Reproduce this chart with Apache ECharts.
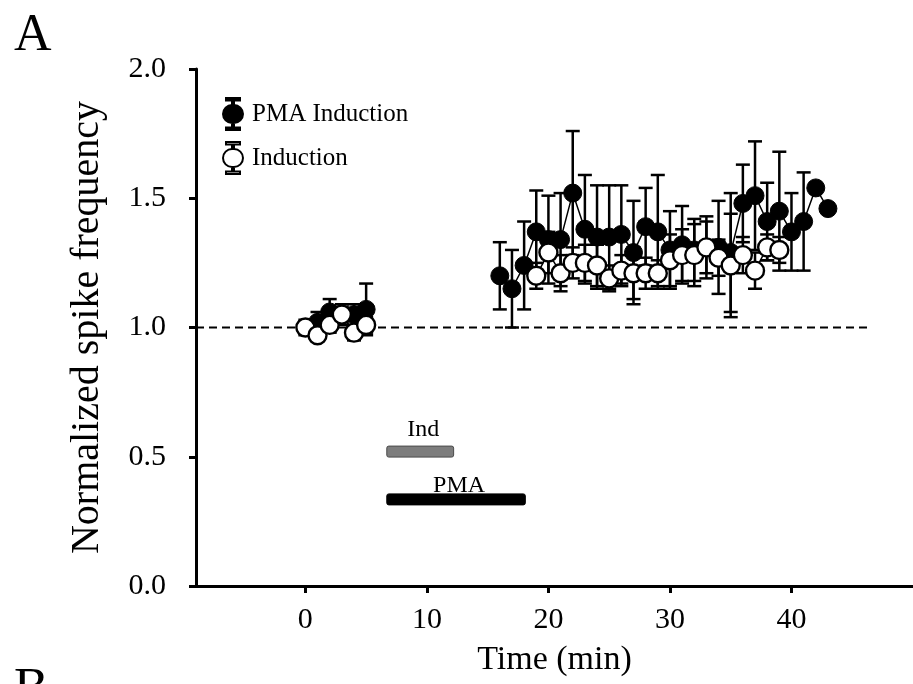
<!DOCTYPE html>
<html>
<head>
<meta charset="utf-8">
<script src="https://cdn.jsdelivr.net/npm/echarts@6/dist/echarts.min.js"></script>
<style>
html,body{margin:0;padding:0;background:#fff;}
#chart{width:913px;height:684px;}
</style>
</head>
<body>
<div id="chart"></div>
<script>
// ---- data ----
const pmaTime = [0,1,2,3,4,5, 16,17,18,19,20,21,22,23,24,25,26,27,28,29,30,31,32,33,34,35,36,37,38,39,40,41,42,43];
const pmaMean = [1.00,1.02,1.06,1.05,1.05,1.07, 1.20,1.15,1.24,1.37,1.34,1.34,1.52,1.38,1.35,1.35,1.36,1.29,1.39,1.37,1.30,1.32,1.30,1.31,1.31,1.29,1.48,1.51,1.41,1.45,1.37,1.41,1.54,1.46];
const pmaSem  = [0.03,0.04,0.05,0.04,0.04,0.10, 0.13,0.15,0.17,0.16,0.17,0.18,0.24,0.21,0.20,0.20,0.19,0.20,0.15,0.22,0.15,0.15,0.12,0.12,0.18,0.23,0.15,0.21,0.15,0.23,0.15,0.19,0,0];

const indTime = [0,1,2,3,4,5, 19,20,21,22,23,24,25,26,27,28,29,30,31,32,33,34,35,36,37,38,39];
const indMean = [1.00,0.97,1.01,1.05,0.98,1.01, 1.20,1.29,1.21,1.25,1.25,1.24,1.19,1.22,1.21,1.21,1.21,1.26,1.28,1.28,1.31,1.27,1.24,1.28,1.22,1.31,1.30];
const indSem  = [0.02,0.02,0.03,0.03,0.03,0.03, 0.05,0.08,0.07,0.06,0.07,0.08,0.05,0.06,0.10,0.06,0.05,0.10,0.10,0.12,0.10,0.07,0.20,0.07,0.07,0.05,0.05];

// treatment bars: [start, end, level]
const treatBars = [[6.7, 12.2, 0.52], [6.7, 18.1, 0.335]];
const treatLabels = ['Ind', 'PMA'];
const baselineLevel = 1.0;
const baselineRange = [-9, 46.6];

const xTicks = [0, 10, 20, 30, 40];
const seriesNames = ['PMA Induction', 'Induction'];

// ---- helpers ----
const FONT = '"Liberation Serif", "Times New Roman", serif';
function lineData(t, m) {
  const out = [];
  for (let i = 0; i < t.length; i++) {
    if (i > 0 && t[i] - t[i - 1] > 3) out.push(['-', '-']);
    out.push([t[i], m[i]]);
  }
  return out;
}
function errData(t, m, e) { return t.map((v, i) => [v, m[i], e[i]]); }
function errRender(params, api) {
  const x = api.value(0), y = api.value(1), e = api.value(2);
  if (!e) return null;
  const top = api.coord([x, y + e]), bot = api.coord([x, y - e]);
  const hw = 7, st = {stroke: '#000', lineWidth: 2.5};
  return {type: 'group', children: [
    {type: 'line', shape: {x1: top[0], y1: top[1], x2: bot[0], y2: bot[1]}, style: st},
    {type: 'line', shape: {x1: top[0] - hw, y1: top[1], x2: top[0] + hw, y2: top[1]}, style: st},
    {type: 'line', shape: {x1: bot[0] - hw, y1: bot[1], x2: bot[0] + hw, y2: bot[1]}, style: st}
  ]};
}
const legendIcon = 'path://M3,0H17V2.5H11V7A9,9 0 0 1 11,25V29.5H17V32H3V29.5H9V25A9,9 0 0 1 9,7V2.5H3Z';
const barStyles = [
  {fill: '#7d7d7d', stroke: '#4a4a4a', labelDy: -4},
  {fill: '#000', stroke: '#000', labelDy: 4}
];

const chart = echarts.init(document.getElementById('chart'));
chart.setOption({
  animation: false,
  backgroundColor: '#fff',
  title: {text: 'A', left: 9, top: 5, textStyle: {fontFamily: FONT, fontSize: 52, fontWeight: 'normal', color: '#000'}},
  graphic: [{type: 'text', left: 14, top: 664, style: {text: 'B', font: '52px ' + FONT, fill: '#000'}}],
  grid: {left: 196, top: 69, width: 723, height: 517},
  legend: {
    orient: 'vertical', left: 217, top: 92, itemGap: 10,
    itemWidth: 20, itemHeight: 32,
    data: [{name: seriesNames[0], icon: legendIcon}, {name: seriesNames[1], icon: legendIcon}],
    textStyle: {fontFamily: FONT, fontSize: 25, color: '#000', padding: [0, 0, 0, 4]}
  },
  xAxis: {
    type: 'value', min: -9, max: 50,
    name: 'Time (min)', nameLocation: 'middle', nameGap: 57,
    nameTextStyle: {fontFamily: FONT, fontSize: 34, color: '#000'},
    axisLine: {onZero: false, lineStyle: {color: '#000', width: 3}},
    axisTick: {customValues: xTicks, length: 7, lineStyle: {width: 3, color: '#000'}},
    axisLabel: {customValues: xTicks, fontFamily: FONT, fontSize: 30, color: '#000', margin: 19},
    splitLine: {show: false}
  },
  yAxis: {
    type: 'value', min: 0, max: 2, interval: 0.5,
    name: 'Normalized spike frequency', nameLocation: 'middle', nameGap: 89,
    nameTextStyle: {fontFamily: FONT, fontSize: 40, color: '#000'},
    axisLine: {onZero: false, lineStyle: {color: '#000', width: 3}},
    axisTick: {length: 7, lineStyle: {width: 3, color: '#000'}},
    axisLabel: {fontFamily: FONT, fontSize: 30, color: '#000', margin: 30, formatter: v => v.toFixed(1)},
    splitLine: {show: false}
  },
  series: [
    {
      type: 'line', data: [[baselineRange[0], baselineLevel], [baselineRange[1], baselineLevel]],
      symbol: 'none', silent: true, z: 1,
      lineStyle: {color: '#000', width: 2, type: [8, 5]}
    },
    {
      type: 'custom', z: 2, silent: true,
      data: treatBars,
      renderItem: function (params, api) {
        const p1 = api.coord([api.value(0), api.value(2)]);
        const p2 = api.coord([api.value(1), api.value(2)]);
        const s = barStyles[params.dataIndex];
        return {type: 'group', children: [
          {type: 'rect', shape: {x: p1[0], y: p1[1] - 5.5, width: p2[0] - p1[0], height: 11, r: 2},
           style: {fill: s.fill, stroke: s.stroke, lineWidth: 1}},
          {type: 'text', style: {text: treatLabels[params.dataIndex], x: (p1[0] + p2[0]) / 2 + 3, y: p1[1] - 5.5 + s.labelDy,
            align: 'center', verticalAlign: 'bottom', font: '24px ' + FONT, fill: '#000'}}
        ]};
      }
    },
    {type: 'custom', z: 3, silent: true, data: errData(pmaTime, pmaMean, pmaSem), renderItem: errRender},
    {
      name: seriesNames[0], type: 'line', z: 4,
      data: lineData(pmaTime, pmaMean), connectNulls: false,
      symbol: 'circle', symbolSize: 18,
      itemStyle: {color: '#000', borderColor: '#000', borderWidth: 1},
      lineStyle: {color: '#000', width: 1.5}
    },
    {type: 'custom', z: 5, silent: true, data: errData(indTime, indMean, indSem), renderItem: errRender},
    {
      name: seriesNames[1], type: 'line', z: 6,
      data: lineData(indTime, indMean), connectNulls: false,
      symbol: 'circle', symbolSize: 18,
      itemStyle: {color: '#fff', borderColor: '#000', borderWidth: 2.4},
      lineStyle: {color: '#000', width: 1.5}
    }
  ]
});
</script>
</body>
</html>
